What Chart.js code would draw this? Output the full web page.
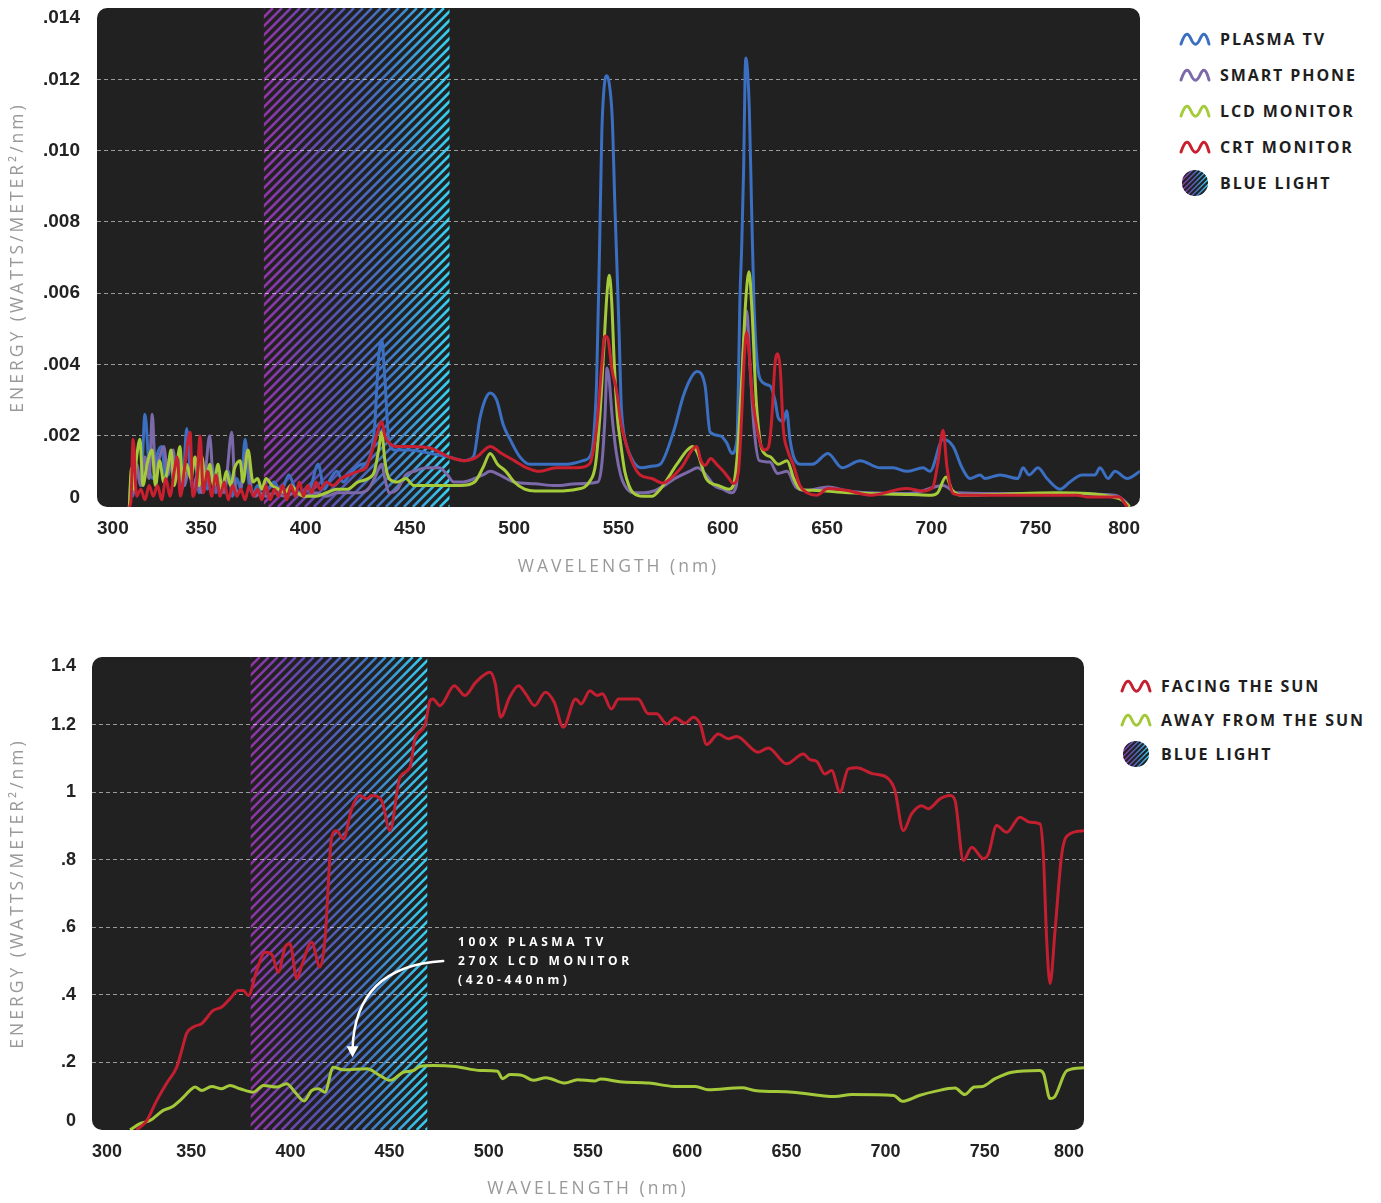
<!DOCTYPE html>
<html>
<head>
<meta charset="utf-8">
<title>Blue light spectra</title>
<script src="https://cdn.jsdelivr.net/npm/chart.js@4.4.1/dist/chart.umd.min.js"></script>
<style>
  html, body { margin: 0; padding: 0; background: #fff; }
  body { width: 1381px; height: 1203px; position: relative; overflow: hidden; }
  canvas { position: absolute; left: 0; }
  #screenChart { top: 0; }
  #sunChart { top: 640px; }
  .legend { position: absolute; font-family: "Open Sans", sans-serif; font-weight: 700; font-size: 16px; letter-spacing: 1.9px; color: #1e1e1e; }
  .legend .row { display: flex; align-items: center; }
  .legend svg { margin-right: 9px; flex: none; }
</style>
</head>
<body>
<canvas id="screenChart" width="1150" height="590"></canvas>
<canvas id="sunChart" width="1100" height="563"></canvas>
<div class="legend" id="screenLegend" style="left:1179px;top:21px"></div>
<div class="legend" id="sunLegend" style="left:1120px;top:669px"></div>
<script>
'use strict';

// wavelength (nm) and energy (W/m²/nm)
const plasmaNm = [315.5,316.5,317,319,321,323,325,327,329,331,333,335,337,339,341,343,345,347,349,351,353,355,357,359,361,363,365,367,369,371,373,375,377,379,
  382,385,388,392,395,398,402,406,409,412,415,418,421,424,427,430,433,435,436.5,438,440,443,450,460,469,476,
  480.4,483.6,486,488.4,491.6,494.8,498,502.8,507.6,515,525,533,
  537,538,539.5,541,542,543,544.3,545.5,547,548.3,549.4,550.4,551.2,552.5,554,556,558,561,
  566.7,570,576.3,581,584.5,587.6,591.5,593.9,598.7,601.9,604.4,
  606.8,607.5,608.2,609,610,610.7,611.2,611.8,612.7,613.8,615,617.8,
  622.6,625,626.6,629,630.6,632.2,634,637,
  643,650.4,657.2,665.8,675.4,681.6,688.3,696,699.3,705.6,
  710.4,714.7,718.5,723.3,725.7,732.9,741.5,743.9,746.8,751.1,
  755.4,761.7,766.4,772.2,778.4,780.8,784.7,788,793.8,800];
const plasmaVal = [0,.0007,.0003,.0010,.0006,.0026,.0011,.0008,.0015,.0017,.0008,.0014,.0007,.0013,.0005,.0022,.0009,.0013,.0004,.0011,
  .0005,.0012,.0004,.0008,.0004,.0010,.0003,.0008,.0005,.0019,.0006,.0004,.0006,.0003,
  .0005,.0007,.0004,.0009,.0005,.0004,.0005,.0012,.0005,.0008,.0010,.0007,.0009,.0011,.0012,.0013,.0022,.0042,.0047,.0036,.0018,.0016,.0016,.0015,.0014,.0013,
  .0014,.0025,.0030,.0032,.0030,.0023,.0019,.0014,.0012,.0012,.0012,.0013,
  .0015,.0019,.0035,.0075,.0105,.0117,.0121,.0119,.0109,.0084,.0065,.0047,.0030,.0021,.0017,.0014,.0012,.0011,
  .00115,.0012,.0021,.0031,.0036,.0038,.0034,.0021,.0020,.0018,.0015,
  .0019,.0035,.0058,.0072,.0095,.0122,.0126,.0123,.0112,.0084,.0056,.0036,
  .0034,.0030,.0025,.0024,.0027,.0019,.0014,.0012,
  .0012,.0015,.0011,.0013,.0011,.0011,.0010,.0011,.0010,.0019,
  .0017,.0011,.0008,.0009,.0008,.0009,.0008,.0011,.0009,.0011,
  .0008,.0005,.0007,.0009,.0009,.0011,.0008,.0010,.0008,.0010];

const phoneNm = [315.5,316.5,317.5,319,321,323,325,326.5,328,330,332,334,
  336.5,338,340,342,344,346,348,350,352,354,356,358,360,362,
  364.6,366,368,370,372,374,376,378,
  381,385,390,395,400,405,410,415,420,425,430,433,436.5,438,440,
  444,448,452,458,464,468,471,475,481,485,488.5,493,500,510,520,530,540,
  542,543.5,544.5,545.5,547,549,551,553,557,562,567,572,577,584,588,592,596,600,604,
  606.5,608,610,611.5,613,615,617.5,622.6,626.3,630.8,635,640,
  650.4,660,670,690,705.6,712,730,760,788,793.8,795];
const phoneVal = [0,.0009,.0004,.0012,.0006,.0014,.0008,.0026,.0010,.0014,.0017,.0009,
  .0016,.0008,.0012,.0006,.0011,.0005,.0009,.0004,.0010,.0020,.0006,.0009,.0004,.0008,
  .0021,.0007,.0004,.0009,.0016,.0005,.0003,.0004,
  .0003,.0004,.0003,.0004,.0003,.0004,.0003,.0004,.0004,.0004,.0005,.0008,.0012,.0008,.0004,
  .0005,.0009,.0010,.0011,.0011,.0009,.0007,.0007,.0008,.0009,.0010,.0009,.0007,.00065,.0006,.00065,.0007,
  .0012,.0025,.0039,.0036,.0025,.0015,.0009,.0006,.0004,.0004,.00045,.0006,.0008,.0010,.0011,.0009,.0006,.0005,.0004,
  .0006,.0020,.0045,.0055,.0040,.0022,.0013,.00126,.00094,.0010,.00056,.00047,
  .00056,.00045,.0004,.00038,.0006,.0004,.00038,.00038,.00033,.0001,0];

const lcdNm = [315.5,316.5,317.5,319,320.6,322,324,326.4,328,330,332,334,335.5,337,339.8,341,343,345,347,349,
  350.3,352,354,356,358,360,362,364,366,368.6,370,372.4,374.8,377,379,381,384,387,390,393,
  396,400,405,410,415,420,425,430,433,435,436.5,438,440,444,448,452,456,462,466,470,
  474,481,485,488.5,492,496,500,505,510,520,530,536,539,541,543,544.5,545.6,546.7,548,549.5,
  551,553,555,557,562,566,570,578,583,585.5,588,592,598,603,605,607,609,611,612.6,614,
  616,618,620,623,626.6,630.8,634,637,643,660,690,700,703,707,710,715,730,760,790,794.3,795];
const lcdVal = [0,.0011,.0005,.0014,.0019,.0006,.0012,.0016,.0006,.0013,.0007,.0011,.0016,.0006,.0017,.0007,.0012,.0008,.0014,.0006,
  .0014,.0007,.0012,.0006,.0012,.0005,.0010,.0006,.0011,.0013,.0007,.0016,.0007,.0008,.0005,.0008,.0006,.0005,.0004,.0006,
  .0004,.0003,.0003,.0004,.0005,.0005,.0007,.0008,.0010,.0016,.0021,.0013,.0008,.0007,.0008,.0006,.0006,.0006,.0006,.0006,
  .0006,.0007,.0011,.0015,.0012,.0010,.0007,.0005,.00045,.00045,.0005,.0007,.0012,.0025,.0045,.0060,.0065,.0058,.0040,.0025,
  .0018,.0010,.0006,.0004,.0003,.0003,.0005,.0012,.0016,.0017,.0015,.0008,.0006,.0005,.0006,.0015,.0035,.0058,.0066,.0055,
  .0030,.0018,.0015,.0014,.0012,.0013,.0008,.0005,.00047,.0004,.00035,.00033,.0004,.00084,.00047,.00033,.00035,.0004,.00024,.00005,0];

const crtNm = [315.5,316.3,317.3,319,321,323,325,327,329,331,333,335,337,338.4,340,342,344.6,346,348,349.4,
  351,353,355,357,359,361,363,365,367,369,371,373,375,377,379,381,383,385,387,389,
  391,393,395,397,399,401,403,405,407,410,413,417,421,425,429,432,434,436.5,438,440,
  443,450,460,469,476,482,488.5,494,500,506,512,520,530,536,538,540,542,543.5,545,547,
  549,551,554,557,560.3,566,571.3,575,580,587.5,589.5,591.5,594.2,597,600.3,603,605,607.5,609,610.3,
  611.4,612.5,614,616.4,618.5,620.2,622,623.5,625,626.3,627.5,629,631,633.7,637,640.4,645,650.4,659,671,
  688,696,700.7,703,705.6,707.5,710.4,715,740,770,775,790,793.3,794];
const crtVal = [0,.0002,.0019,.0003,.0005,.0002,.0006,.0003,.0006,.0002,.0008,.0003,.0010,.0014,.0003,.0011,.0021,.0003,.0008,.0020,
  .0004,.0010,.0003,.0009,.0003,.0007,.0002,.0006,.0003,.0005,.0002,.0006,.0003,.0005,.0002,.0006,.0002,.0005,.0003,.0006,
  .0002,.0006,.0003,.0007,.0003,.0006,.0004,.0007,.0005,.0007,.0006,.0008,.0009,.0010,.0011,.0016,.0020,.0024,.0020,.0018,
  .0017,.0017,.00165,.0014,.0013,.0014,.0017,.0015,.0013,.0011,.0010,.0011,.0011,.0012,.0016,.0025,.0040,.0048,.0047,.0038,
  .0033,.0024,.0017,.0012,.0009,.0008,.00067,.0008,.0011,.0017,.0013,.00117,.00136,.0012,.0010,.0008,.00066,.0010,.0025,.0042,
  .0049,.0044,.0032,.0022,.0017,.0016,.0017,.0025,.0040,.0043,.0039,.0022,.0016,.0012,.0006,.0004,.00033,.00052,.00047,.00033,
  .00052,.00045,.00056,.0012,.00215,.0011,.00038,.00033,.00033,.00033,.00028,.00028,.00005,0];

// sunlight spectra
const facingNm = [322.5,327.6,332.6,337.6,342.7,345.2,347.7,351.1,355.3,361.1,365.4,369.6,373.8,376.3,378.8,
  383,387.2,390.6,393.9,397.3,399.8,403.2,405.7,410.7,414.9,417.4,420.8,423.3,426.7,430.9,
  435.1,438.5,441,446,450.2,455.2,460.3,462.8,467.8,470.4,471.8,475.4,482.6,488,493.4,
  500.6,503.3,506,510.5,515,518.6,523.1,528.5,533,537.5,543.8,546.5,551,554.6,557.3,
  561.8,565.4,575.3,580.4,584.6,589.7,593.9,598.9,603.1,606.5,609.8,615.7,620.7,624.9,635.8,
  640.9,650.1,658.5,661.9,665.3,669.4,672.8,677,681.2,685.4,693.8,700.5,704.7,708.9,713.1,
  718.2,721.5,727.4,732.5,735,739.2,743.4,749.3,751.8,756,761,767.7,772.8,777.8,779.5,
  781.2,782.9,785.4,788.8,793,800];
const facingVal = [0,.028,.087,.138,.186,.235,.286,.305,.315,.354,.364,.389,.413,.413,.398,
  .472,.526,.52,.467,.541,.551,.448,.487,.556,.482,.561,.867,.886,.862,.951,
  .99,.98,.99,.975,.886,1.044,1.074,1.158,1.197,1.271,1.276,1.256,1.315,1.286,1.325,
  1.355,1.32,1.222,1.281,1.315,1.291,1.256,1.296,1.266,1.192,1.276,1.261,1.3,1.286,1.291,
  1.246,1.276,1.276,1.232,1.232,1.202,1.22,1.204,1.222,1.202,1.141,1.172,1.158,1.165,1.118,
  1.131,1.084,1.113,1.096,1.091,1.054,1.064,1.0,1.069,1.072,1.054,1.044,1.005,.886,.936,
  .96,.951,.98,.99,.975,.798,.837,.803,.817,.901,.881,.926,.911,.906,.817,
  .561,.433,.59,.817,.877,.886];

const awayNm = [319.2,324.2,329.2,335.9,340.2,345.2,349.4,351.9,355.3,360.3,365.4,369.6,374.6,381.3,386.4,
  393.1,398.1,402.3,406.9,410.7,414.1,417.4,421.6,426.7,438.5,445.2,450.2,456.9,462,465.3,
  472,483.1,495.9,504.4,506.9,510.7,517.1,522.4,528.8,538.4,544.7,553.3,556.4,566,580.8,
  593.6,604.2,610.6,627.6,634,653.1,674.4,683,704.2,708.4,716.9,725.4,735,739.9,744.6,
  748.8,755.2,763.7,777.5,779.6,782.9,785,791.4,800];
const awayVal = [0,.019,.028,.058,.068,.092,.117,.127,.117,.129,.122,.132,.122,.112,.132,
  .127,.137,.112,.086,.117,.122,.112,.186,.178,.181,.161,.147,.171,.176,.188,
  .191,.188,.176,.174,.152,.164,.161,.147,.155,.139,.149,.145,.151,.143,.139,
  .129,.129,.119,.125,.117,.112,.099,.105,.102,.085,.102,.115,.124,.105,.127,
  .129,.152,.171,.176,.167,.093,.097,.176,.184];

const wavelengthTicks = [300, 350, 400, 450, 500, 550, 600, 650, 700, 750, 800];
const screenTicks = [0, 0.002, 0.004, 0.006, 0.008, 0.010, 0.012, 0.014];
const sunTicks = [0, 0.2, 0.4, 0.6, 0.8, 1, 1.2, 1.4];
const blueBand = [380, 469];

const noteLines = ['100X PLASMA TV', '270X LCD MONITOR', '(420-440nm)'];
const noteAt = [484.5, 0.556];
const arrowFrom = [477, 0.5];
const arrowBend = [432.6, 0.484];
const arrowTo = [431.3, 0.215];

const points = (nm, val) => nm.map((x, i) => ({x, y: val[i]}));

const line = (label, color, nm, val, order) => ({
  label,
  data: points(nm, val),
  borderColor: color,
  borderWidth: 3,
  pointRadius: 0,
  cubicInterpolationMode: 'monotone',
  fill: false,
  order
});

// dark rounded panel plus the striped blue-light band behind the grid
const panelPlugin = {
  id: 'panel',
  beforeDraw(chart) {
    const {ctx, chartArea: a, scales: {x}} = chart;
    ctx.save();
    ctx.fillStyle = '#212121';
    ctx.beginPath();
    ctx.roundRect(a.left, a.top, a.width, a.height, 10);
    ctx.fill();

    const x0 = x.getPixelForValue(blueBand[0]);
    const x1 = x.getPixelForValue(blueBand[1]);
    ctx.beginPath();
    ctx.rect(x0, a.top, x1 - x0, a.height);
    ctx.clip();
    const g = ctx.createLinearGradient(x0, 0, x1, 0);
    g.addColorStop(0, '#9234a8');
    g.addColorStop(0.35, '#5a4fb0');
    g.addColorStop(0.68, '#3f78c4');
    g.addColorStop(1, '#36d0f0');
    ctx.strokeStyle = g;
    ctx.lineWidth = 2.5;
    ctx.beginPath();
    for (let s = x0 - a.height; s < x1 + 10; s += 9) {
      ctx.moveTo(s, a.bottom);
      ctx.lineTo(s + a.height, a.top);
    }
    ctx.stroke();
    ctx.restore();
  }
};

// canvas letter spacing for the axis titles only
const spacedTitles = {
  id: 'spacedTitles',
  beforeDraw(chart) {
    Object.values(chart.scales).forEach(scale => {
      if (scale._spaced) return;
      const drawTitle = scale.drawTitle.bind(scale);
      scale.drawTitle = () => {
        chart.ctx.letterSpacing = '3px';
        drawTitle();
        chart.ctx.letterSpacing = '0px';
      };
      scale._spaced = true;
    });
  }
};

const notePlugin = {
  id: 'note',
  afterDatasetsDraw(chart) {
    const {ctx, scales: {x, y}} = chart;
    const px = p => [x.getPixelForValue(p[0]), y.getPixelForValue(p[1])];
    ctx.save();
    ctx.fillStyle = '#fff';
    ctx.strokeStyle = '#fff';
    ctx.font = 'bold 12px "Open Sans", sans-serif';
    ctx.letterSpacing = '3.6px';
    ctx.textBaseline = 'middle';
    const [tx, ty] = px(noteAt);
    noteLines.forEach((text, i) => ctx.fillText(text, tx, ty + i * 19));

    const [ax, ay] = px(arrowFrom);
    const [bx, by] = px(arrowBend);
    const [cx, cy] = px(arrowTo);
    ctx.lineWidth = 2.5;
    ctx.lineCap = 'round';
    ctx.beginPath();
    ctx.moveTo(ax, ay);
    ctx.quadraticCurveTo(bx, by, cx, cy - 8);
    ctx.stroke();
    ctx.beginPath();
    ctx.moveTo(cx, cy);
    ctx.lineTo(cx - 6, cy - 11);
    ctx.lineTo(cx + 6, cy - 11);
    ctx.closePath();
    ctx.fill();
    ctx.restore();
  }
};

const tickFont = size => ({family: '"Liberation Sans", Arial, sans-serif', size, weight: 'bold'});
const titleFont = {family: '"Open Sans", sans-serif', size: 17.5};

// first and last y labels sit inside the panel
function innerLabel(label, index, count) {
  if (index === count - 1) return ['', label];
  if (index === 0) return [label, ''];
  return label;
}

function spectrumChart(id, datasets, cfg) {
  const yTicks = cfg.yTicks;
  return new Chart(document.getElementById(id), {
    type: 'line',
    data: {datasets},
    plugins: cfg.plugins,
    options: {
      responsive: false,
      animation: false,
      devicePixelRatio: 1,
      events: [],
      layout: {padding: cfg.padding},
      plugins: {legend: {display: false}, tooltip: {enabled: false}},
      scales: {
        x: {
          type: 'linear',
          min: wavelengthTicks[0],
          max: wavelengthTicks[wavelengthTicks.length - 1],
          afterBuildTicks: s => { s.ticks = wavelengthTicks.map(value => ({value})); },
          afterFit: s => { s.height = cfg.xHeight; s.paddingLeft = 0; s.paddingRight = 0; },
          grid: {display: false},
          border: {display: false},
          ticks: {
            align: 'inner',
            padding: cfg.xPad,
            color: '#222',
            font: tickFont(cfg.fontSize),
            maxRotation: 0,
            callback: v => String(v)
          },
          title: {
            display: true,
            text: 'WAVELENGTH (nm)',
            color: '#999',
            font: titleFont,
            padding: {top: 0, bottom: cfg.titleBottom}
          }
        },
        y: {
          min: yTicks[0],
          max: yTicks[yTicks.length - 1],
          afterBuildTicks: s => { s.ticks = yTicks.map(value => ({value})); },
          afterFit: s => { s.width = cfg.yWidth; s.paddingTop = 0; s.paddingBottom = 0; },
          grid: {
            drawTicks: false,
            lineWidth: 1,
            color: c => (c.index === 0 || c.index === yTicks.length - 1) ? 'rgba(0,0,0,0)' : 'rgba(255,255,255,0.55)'
          },
          border: {display: false, dash: [4, 3]},
          ticks: {
            padding: cfg.yPad,
            color: '#222',
            font: Object.assign(tickFont(cfg.fontSize), {lineHeight: 1}),
            callback: (v, i) => innerLabel(cfg.yLabel(v), i, yTicks.length)
          },
          title: {
            display: true,
            text: 'ENERGY (WATTS/METER²/nm)',
            color: '#999',
            font: titleFont,
            padding: {top: 8, bottom: 0}
          }
        }
      }
    }
  });
}

spectrumChart('screenChart', [
  line('PLASMA TV', '#3b6fc1', plasmaNm, plasmaVal, 3),
  line('SMART PHONE', '#7b69a9', phoneNm, phoneVal, 2),
  line('LCD MONITOR', '#a5cb3a', lcdNm, lcdVal, 1),
  line('CRT MONITOR', '#c9202f', crtNm, crtVal, 0)
], {
  yTicks: screenTicks,
  yLabel: v => v === 0 ? '0' : v.toFixed(3).replace(/^0\./, '.'),
  fontSize: 19,
  padding: {top: 8, right: 10, left: 0, bottom: 0},
  yWidth: 97,
  yPad: 17,
  xPad: 2,
  xHeight: 83,
  titleBottom: 12,
  plugins: [panelPlugin, spacedTitles]
});

spectrumChart('sunChart', [
  line('FACING THE SUN', '#c41f30', facingNm, facingVal, 0),
  line('AWAY FROM THE SUN', '#a3c93a', awayNm, awayVal, 1)
], {
  yTicks: sunTicks,
  yLabel: v => v === 0 ? '0' : String(Number(v.toFixed(1))).replace(/^0\./, '.'),
  fontSize: 18,
  padding: {top: 17, right: 16, left: 0, bottom: 0},
  yWidth: 92,
  yPad: 16,
  xPad: 3,
  xHeight: 73,
  titleBottom: 3,
  plugins: [panelPlugin, spacedTitles, notePlugin]
});

// legends, built as html next to each panel
const wave = color => `<svg width="32" height="16" viewBox="0 0 32 16"><path d="M2 13 C6 1 9 1 12 8 C15 15 18 15 21 8 C24 1 27 1 30 13" fill="none" stroke="${color}" stroke-width="3" stroke-linecap="round"/></svg>`;

function stripeIcon(id) {
  let stripes = '';
  for (let s = -28; s < 34; s += 5) stripes += `M${s} 30 L${s + 30} 0 `;
  return `<svg width="32" height="28" viewBox="0 0 32 28">
    <defs>
      <linearGradient id="bg${id}" gradientUnits="userSpaceOnUse" x1="3" y1="0" x2="29" y2="0">
        <stop offset="0" stop-color="#9234a8"/><stop offset="0.5" stop-color="#4f66bd"/><stop offset="1" stop-color="#36d0f0"/>
      </linearGradient>
      <clipPath id="cl${id}"><circle cx="16" cy="14" r="13"/></clipPath>
    </defs>
    <g clip-path="url(#cl${id})">
      <rect width="32" height="28" fill="url(#bg${id})"/>
      <path d="${stripes}" stroke="#222" stroke-width="2"/>
    </g>
  </svg>`;
}

function buildLegend(el, items, rowHeight) {
  el.innerHTML = items.map(([label, icon]) =>
    `<div class="row" style="height:${rowHeight}px">${icon}<span>${label}</span></div>`
  ).join('');
}

buildLegend(document.getElementById('screenLegend'), [
  ['PLASMA TV', wave('#3b6fc1')],
  ['SMART PHONE', wave('#7b69a9')],
  ['LCD MONITOR', wave('#a5cb3a')],
  ['CRT MONITOR', wave('#c9202f')],
  ['BLUE LIGHT', stripeIcon('a')]
], 36);

buildLegend(document.getElementById('sunLegend'), [
  ['FACING THE SUN', wave('#c41f30')],
  ['AWAY FROM THE SUN', wave('#a3c93a')],
  ['BLUE LIGHT', stripeIcon('b')]
], 34);
</script>
</body>
</html>
